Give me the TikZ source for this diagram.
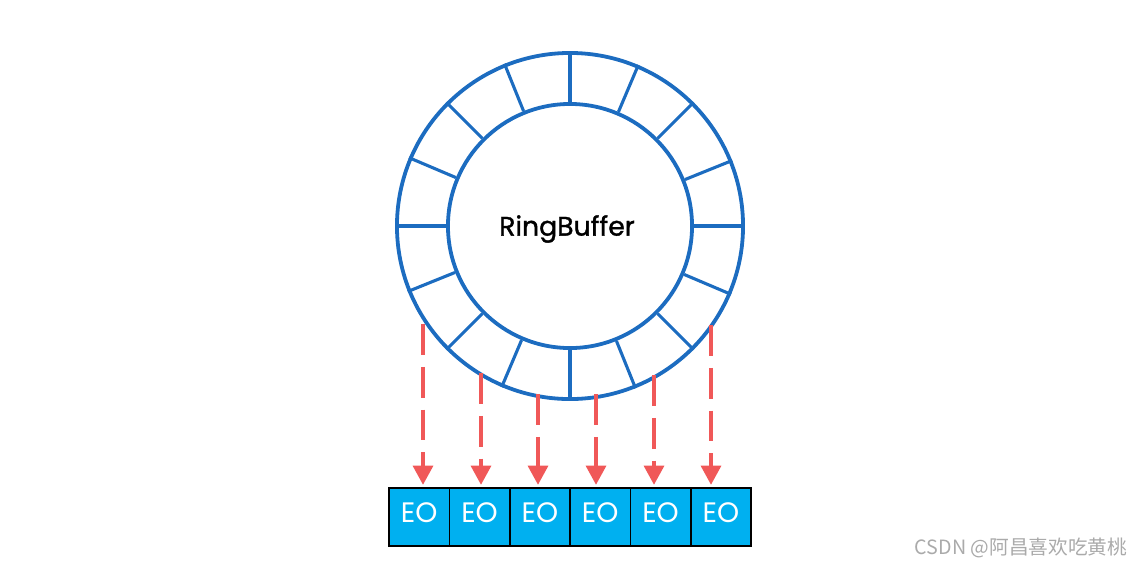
\documentclass[tikz,border=0pt]{standalone}
\usepackage{fontspec}
\setmainfont{Poppins}
\newfontfamily\ringfont[FakeBold=1.2]{Poppins}
\newfontfamily\cjkfont{Noto Sans CJK SC}
\usetikzlibrary{arrows.meta,positioning}
\definecolor{ringblue}{RGB}{28,108,192}
\definecolor{arrowred}{RGB}{240,88,88}
\definecolor{eocyan}{RGB}{0,176,240}
\definecolor{markgray}{RGB}{170,170,170}

\tikzset{
  ringline/.style={draw=ringblue, line width=2.7pt},
  spoke/.style={draw=ringblue, line width=2.2pt},
  eobox/.style={rectangle, draw=black, line width=1.2pt, fill=eocyan, text=white,
    minimum width=1.508cm, minimum height=1.45cm, outer sep=0pt, inner sep=0pt,
    text height=8.4pt, text depth=0pt, font=\fontsize{20}{20}\selectfont},
  feed/.style={draw=arrowred, line width=2.4pt, dash pattern=on 0.77cm off 0.3cm,
    -{Triangle[width=0.5cm,length=0.48cm]}}
}

\begin{document}
\begin{tikzpicture}[x=0.025cm, y=-0.025cm]
    \useasboundingbox (0,0) rectangle (1142,568);

    % ring
    \node[circle, ringline, minimum size=8.65cm, inner sep=0pt] (ring) at (570,226) {};
    \node[circle, ringline, minimum size=6.1cm, inner sep=0pt] (core) at (570,226) {};
    \node[font=\ringfont\fontsize{19}{19}\selectfont] (title) at (567,229) {RingBuffer};
    \foreach \a in {0,22.5,...,337.5}
      \draw[spoke] (core.\a) -- (ring.\a);

    % event slots
    \node[eobox] (b1) at (419.2,517) {EO};
    \foreach \i [remember=\i as \j (initially 1)] in {2,...,6}
      \node[eobox, right=0pt of b\j] (b\i) {EO};

    % feeds
    \foreach \i/\x/\y in {1/423/324, 2/481/373, 3/538/394, 4/596/394, 5/654/375, 6/711/325} {
      \coordinate (s\i) at (\x,\y);
      \draw[feed] (s\i) -- ([yshift=0.08cm]s\i |- b\i.north);
    }

    \node[text=markgray, font=\cjkfont\fontsize{14}{14}\selectfont] (mark) at (1021,548) {CSDN @阿昌喜欢吃黄桃};
  \end{tikzpicture}
\end{document}
